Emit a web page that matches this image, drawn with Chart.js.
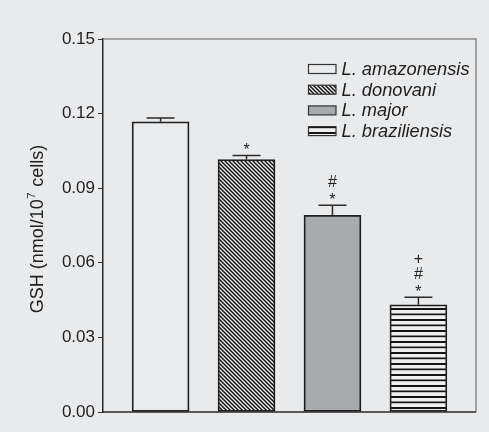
<!DOCTYPE html>
<html>
<head>
<meta charset="utf-8">
<script src="https://cdn.jsdelivr.net/npm/chart.js@4/dist/chart.umd.min.js"></script>
<style>
  html, body { margin: 0; padding: 0; background: #e9eaec; }
  canvas { display: block; }
</style>
</head>
<body>
<canvas id="gsh" width="489" height="432"></canvas>
<script>
// GSH content per species (nmol / 10^7 cells), mean and SEM
const species = ['L. amazonensis', 'L. donovani', 'L. major', 'L. braziliensis'];
const gsh = [0.1167, 0.1015, 0.0791, 0.0431];
const sem = [0.0015, 0.0016, 0.0040, 0.0030];
// significance marks stacked above each bar (bottom to top)
const marks = [[], ['*'], ['*', '#'], ['*', '#', '+']];
// y axis
const yMin = 0, yMax = 0.15, yStep = 0.03;

const INK = '#1f1f1f';
const PAPER = '#eaebed';

function tile(w, h, paint) {
  const c = document.createElement('canvas');
  c.width = w; c.height = h;
  const g = c.getContext('2d');
  paint(g);
  return g.createPattern(c, 'repeat');
}
const ctxMain = document.getElementById('gsh').getContext('2d');
const diagHatch = tile(4, 4, g => {
  g.fillStyle = '#efefef'; g.fillRect(0, 0, 4, 4);
  g.strokeStyle = '#151515'; g.lineWidth = 1.5;
  g.beginPath();
  g.moveTo(-1, -1); g.lineTo(5, 5);
  g.moveTo(-1, 3); g.lineTo(1, 5);
  g.moveTo(3, -1); g.lineTo(5, 1);
  g.stroke();
});
const horizHatch = tile(4, 11, g => {
  g.fillStyle = '#efefef'; g.fillRect(0, 0, 4, 11);
  g.fillStyle = '#151515';
  g.fillRect(0, 0, 4, 2);
  g.fillRect(0, 5.5, 4, 1.7);
});
const fills = [PAPER, diagHatch, '#a9aaad', horizHatch];

const decorations = {
  id: 'decorations',
  afterDatasetsDraw(chart) {
    const { ctx, chartArea: a, scales: { y } } = chart;
    const bars = chart.getDatasetMeta(0).data;
    ctx.save();
    // error bars
    ctx.strokeStyle = '#2a2a2a';
    ctx.lineWidth = 1.5;
    bars.forEach((bar, i) => {
      const top = y.getPixelForValue(gsh[i] + sem[i]);
      ctx.beginPath();
      ctx.moveTo(bar.x, bar.y);
      ctx.lineTo(bar.x, top);
      ctx.moveTo(bar.x - 14, top);
      ctx.lineTo(bar.x + 14, top);
      ctx.stroke();
      // significance symbols
      ctx.fillStyle = INK;
      ctx.font = '16px "Liberation Sans", Arial, sans-serif';
      ctx.textAlign = 'center';
      ctx.textBaseline = 'alphabetic';
      marks[i].forEach((m, k) => {
        const cy = top - 9.5 - k * 14.5;
        const mt = ctx.measureText(m);
        const base = cy + (mt.actualBoundingBoxAscent - mt.actualBoundingBoxDescent) / 2;
        ctx.fillText(m, bar.x, base);
      });
    });
    // frame: light top/right, dark baseline
    ctx.strokeStyle = '#8a8a8a';
    ctx.lineWidth = 1.5;
    ctx.beginPath();
    ctx.moveTo(a.left, a.top);
    ctx.lineTo(a.right, a.top);
    ctx.lineTo(a.right, a.bottom);
    ctx.stroke();
    ctx.strokeStyle = '#2a2a2a';
    ctx.beginPath();
    ctx.moveTo(a.left, a.bottom);
    ctx.lineTo(a.right, a.bottom);
    ctx.stroke();

    // legend
    ctx.font = 'italic 18.3px "Liberation Sans", Arial, sans-serif';
    ctx.textAlign = 'left';
    ctx.textBaseline = 'middle';
    species.forEach((name, i) => {
      const cy = 69 + i * 20.7;
      const bx = 308.5, bw = 27.5, bh = 9;
      ctx.fillStyle = fills[i];
      ctx.fillRect(bx, cy - bh / 2, bw, bh);
      ctx.strokeStyle = '#333';
      ctx.lineWidth = 1.2;
      ctx.strokeRect(bx, cy - bh / 2, bw, bh);
      ctx.fillStyle = INK;
      ctx.fillText(name, 341.5, cy + 1);
    });

    // y axis title with superscript exponent
    ctx.translate(38, (a.top + a.bottom) / 2 + 4);
    ctx.rotate(-Math.PI / 2);
    const big = '18px "Liberation Sans", Arial, sans-serif';
    const small = '11.5px "Liberation Sans", Arial, sans-serif';
    const p1 = 'GSH (nmol/10', p2 = '7', p3 = ' cells)';
    ctx.font = big; const w1 = ctx.measureText(p1).width, w3 = ctx.measureText(p3).width;
    ctx.font = small; const w2 = ctx.measureText(p2).width;
    let x = -(w1 + w2 + w3) / 2;
    ctx.textAlign = 'left';
    ctx.textBaseline = 'middle';
    ctx.fillStyle = INK;
    ctx.font = big; ctx.fillText(p1, x, 0); x += w1;
    ctx.font = small; ctx.fillText(p2, x + 0.5, -6.5); x += w2 + 1;
    ctx.font = big; ctx.fillText(p3, x, 0);
    ctx.restore();
  }
};

new Chart(ctxMain, {
  type: 'bar',
  data: {
    datasets: [{
      data: gsh.map((v, i) => ({ x: i, y: v })),
      backgroundColor: fills,
      borderColor: INK,
      borderWidth: 1.8,
      barThickness: 57,
      borderSkipped: false
    }]
  },
  options: {
    responsive: false,
    animation: false,
    devicePixelRatio: 1,
    layout: { padding: { left: 0, top: 39, right: 13, bottom: 20 } },
    plugins: { legend: { display: false }, tooltip: { enabled: false } },
    scales: {
      x: { type: 'linear', display: false, offset: false, min: -0.67, max: 3.67 },
      y: {
        min: yMin, max: yMax,
        afterFit(scale) { scale.width = 103; },
        ticks: {
          stepSize: yStep,
          padding: 3,
          color: INK,
          font: { family: '"Liberation Sans", Arial, sans-serif', size: 17 },
          callback: v => v.toFixed(2)
        },
        grid: { drawOnChartArea: false, drawTicks: true, tickLength: 5, color: '#333', lineWidth: 1 },
        border: { display: true, color: '#2a2a2a', width: 1.5 }
      }
    }
  },
  plugins: [decorations]
});
</script>
</body>
</html>
